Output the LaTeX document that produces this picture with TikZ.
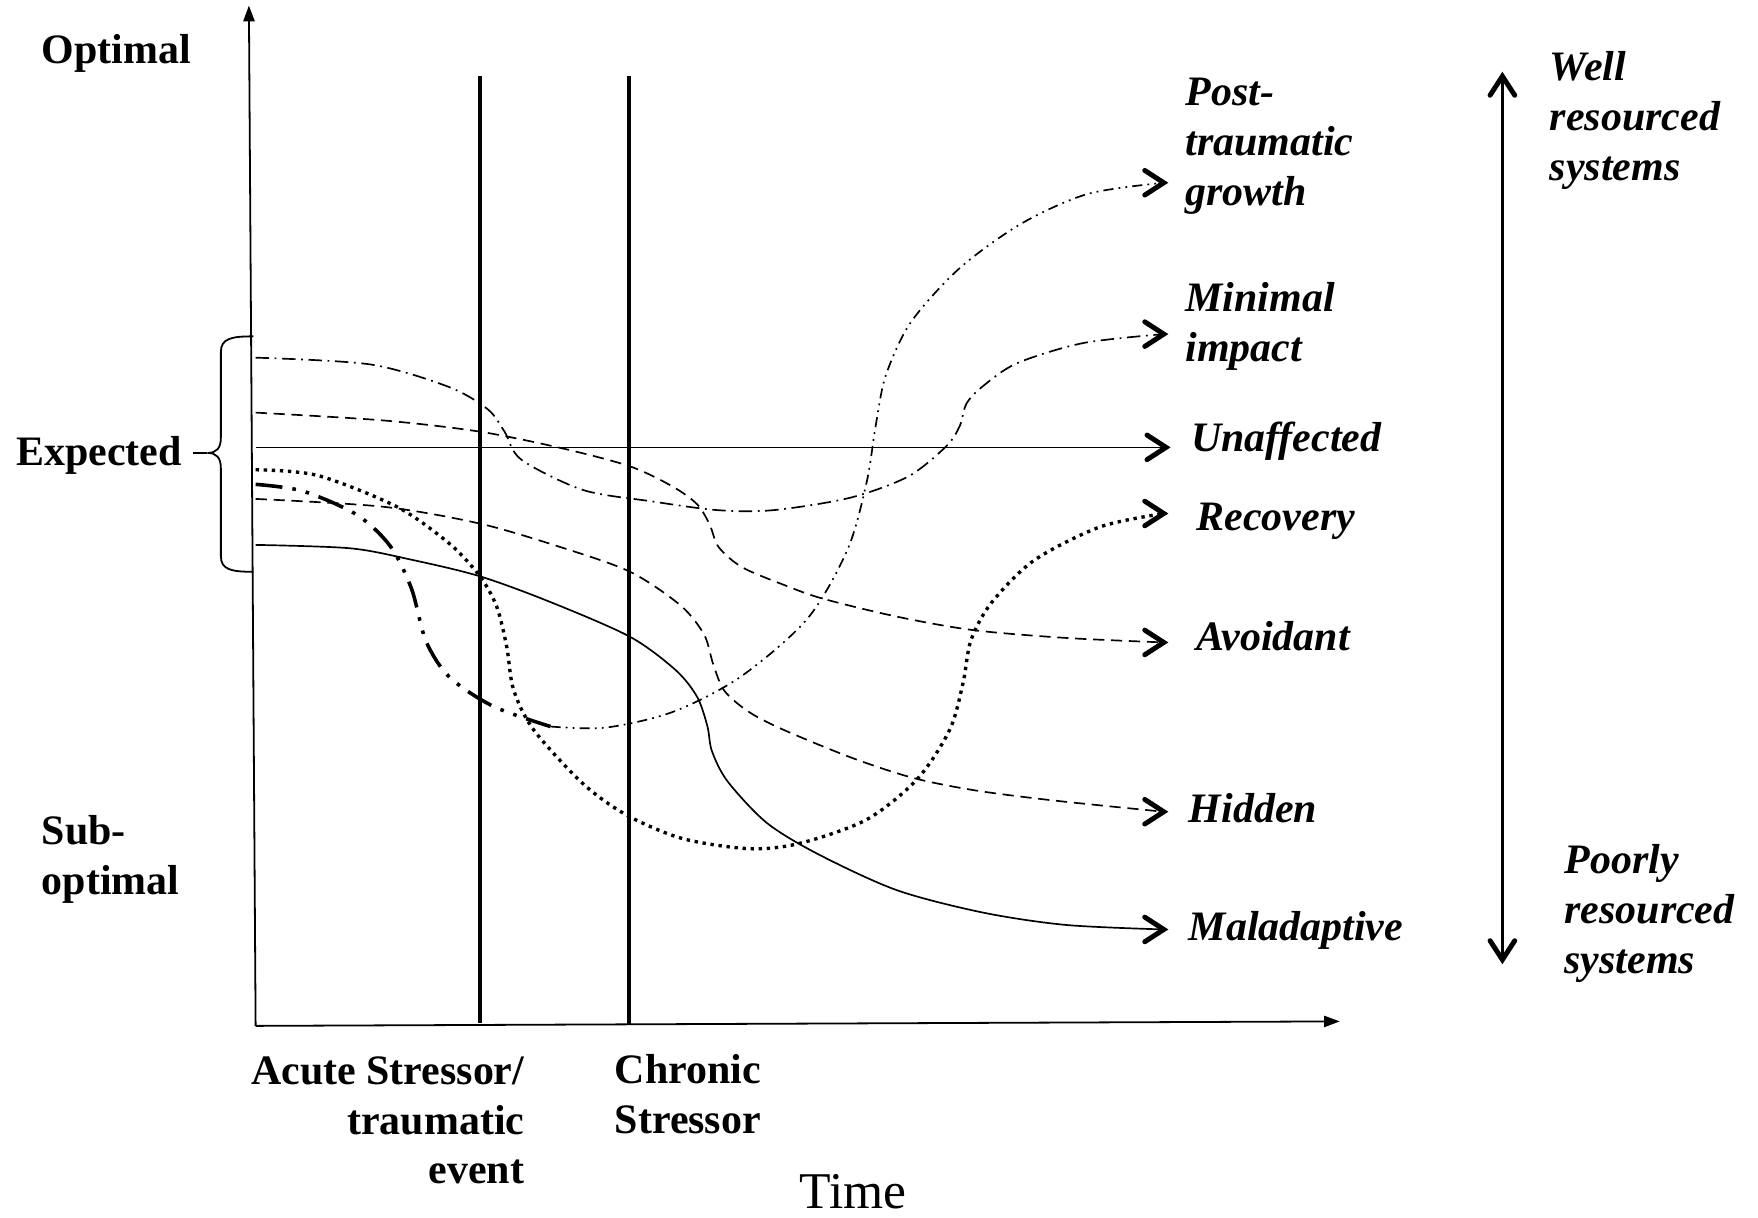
\documentclass[tikz,border=0pt]{standalone}
\usepackage{fontspec}
\setmainfont{Liberation Serif}
\usetikzlibrary{arrows.meta,calc}

\newcommand{\lblfont}{\fontsize{18.7pt}{22.25pt}\selectfont\bfseries}
\newcommand{\outfont}{\fontsize{18.7pt}{22.25pt}\selectfont\bfseries\itshape}

\tikzset{
  axisline/.style={line width=0.8pt},
  stressline/.style={line width=1.5pt},
  thincurve/.style={line width=0.75pt},
  axistip/.style={-{Triangle[length=7pt,width=5pt]}},
  lbl/.style={inner sep=0pt, font=\lblfont, anchor=base west},
  outcome/.style={inner sep=0pt, font=\outfont, align=left, anchor=base west},
  ptgline/.style={thincurve, dash pattern=on 4.5pt off 2.3pt on 0.8pt off 2.3pt on 0.8pt off 2.3pt},
  ptgthick/.style={line width=1.6pt, dash pattern=on 12pt off 4.5pt on 1.6pt off 4.5pt on 1.6pt off 4.5pt},
  minline/.style={thincurve, dash pattern=on 6pt off 2.5pt on 0.8pt off 2.5pt},
  dashline/.style={thincurve, dash pattern=on 5pt off 3pt},
  dotline/.style={line width=1.5pt, dash pattern=on 1.5pt off 2.1pt},
  % bold open chevron, pointing along +x, tip at the pic origin
  chev/.pic={\draw[line width=2.2pt, line cap=round, line join=miter, solid]
      (-17,-11) -- (0,0) -- (-17,11);},
}

\begin{document}
\begin{tikzpicture}[x=0.5pt,y=-0.5pt]
\useasboundingbox (0,0) rectangle (1568,1086);

% axes
\coordinate (origin) at (228,915);
\coordinate (ytop) at (222,5);
\coordinate (xend) at (1195,911);
\draw[axisline, axistip] (origin) -- (ytop);
\draw[axisline, axistip] (origin) -- (xend);

% stressor markers
\coordinate (acuteTop) at (428,68);
\coordinate (acuteBot) at (428,912);
\coordinate (chronTop) at (561,68);
\coordinate (chronBot) at (561,913);
\draw[stressline] (acuteTop) -- (acuteBot);
\draw[stressline] (chronTop) -- (chronBot);

% axis labels (multi-line nodes sit on the baseline of their last line)
\node[lbl] (optimal) at (37,57) {Optimal};
\node[lbl] (expected) at (14,415) {Expected};
\node[lbl, align=left] (subopt) at (37,798) {Sub-\\optimal};
\node[inner sep=0pt, font=\lblfont, align=right, anchor=base east] (acute) at (468,1056) {Acute Stressor/\\traumatic\\event};
\node[lbl, align=left] (chronic) at (548,1011) {Chronic\\Stressor};
\node[inner sep=0pt, font=\fontsize{23pt}{27pt}\selectfont, anchor=base] (time) at (761,1078) {Time};

% bracket for the expected range
\coordinate (braceTip) at (185,404);
\draw[line width=0.8pt] (226,300) .. controls (206,300) and (197,302) .. (197,314)
  -- (197,390) .. controls (197,400) and (193,404) .. (braceTip)
  .. controls (193,404) and (197,408) .. (197,418)
  -- (197,496) .. controls (197,508) and (206,510) .. (226,510);
\draw[line width=0.8pt] ($(braceTip -| expected.east)+(10,0)$) -- (braceTip);

% outcome labels
\node[outcome] (ptg) at (1057,183) {Post-\\traumatic\\growth};
\node[outcome] (minimal) at (1057,322) {Minimal\\impact};
\node[outcome] (unaff) at (1062,403) {Unaffected};
\node[outcome] (recov) at (1067,473) {Recovery};
\node[outcome] (avoid) at (1067,580) {Avoidant};
\node[outcome] (hidden) at (1060,734) {Hidden};
\node[outcome] (malad) at (1060,839) {Maladaptive};

\coordinate (ptgEnd) at (1038,163);
\coordinate (minEnd) at (1038,298);
\coordinate (unStart) at (228,399);
\coordinate (unEnd) at (1040,399);
\coordinate (recEnd) at (1038,458);
\coordinate (avoEnd) at (1038,573);
\coordinate (hidEnd) at (1038,724);
\coordinate (malEnd) at (1038,829);

% trajectories
\draw[thincurve] (unStart) -- (unEnd);

\draw[minline] plot[smooth] coordinates {(228,319) (330,325) (400,345) (435,365) (450,385) (465,410) (520,437) (580,447) (640,455) (690,455) (758,444) (810,425) (844,398) (856,380) (862,360) (876,345) (907,324) (966,306) (minEnd)};

\draw[ptgthick] plot[smooth] coordinates {(228,432) (270,438) (318,459) (348,487) (367,525) (380,572) (401,604) (440,630) (491,648)};
\draw[ptgline] plot[smooth] coordinates {(491,648) (540,649) (600,635) (660,604) (720,552) (756,490) (773,430) (781,380) (790,335) (812,288) (855,240) (910,200) (970,173) (ptgEnd)};

\draw[dashline] plot[smooth] coordinates {(228,368) (342,375) (428,385) (502,400) (562,416) (600,434) (622,450) (633,468) (641,488) (662,506) (700,522) (734,534) (800,550) (868,562) (951,569) (avoEnd)};

\draw[dashline] plot[smooth] coordinates {(228,445) (342,452) (428,467) (500,488) (562,510) (607,540) (628,566) (636,592) (646,616) (668,635) (699,651) (760,676) (815,694) (870,705) (940,714) (hidEnd)};

\draw[dotline] plot[smooth] coordinates {(228,419) (283,424) (354,452) (401,485) (428,514) (443,541) (452,577) (458,615) (476,651) (520,699) (559,727) (609,748) (669,757) (714,752) (773,731) (818,695) (847,651) (859,609) (866,571) (884,538) (922,500) (981,470) (recEnd)};

\draw[thincurve] plot[smooth] coordinates {(228,486) (312,489) (366,499) (428,514) (491,537) (562,568) (603,598) (622,622) (631,648) (635,670) (649,697) (684,734) (730,762) (800,794) (877,814) (951,825) (malEnd)};

% arrow heads of the trajectories
\foreach \e in {ptgEnd,minEnd,unEnd,recEnd,avoEnd,hidEnd,malEnd}
  \pic at (\e) {chev};

% resources scale
\coordinate (resTop) at (1340,68);
\coordinate (resBot) at (1340,856);
\draw[line width=1.3pt] (resBot) -- (resTop);
\pic[rotate=90] at (resTop) {chev};
\pic[rotate=-90] at (resBot) {chev};
\node[outcome] (well) at (1382,161) {Well\\resourced\\systems};
\node[outcome] (poorly) at (1395,868) {Poorly\\resourced\\systems};
\end{tikzpicture}
\end{document}
